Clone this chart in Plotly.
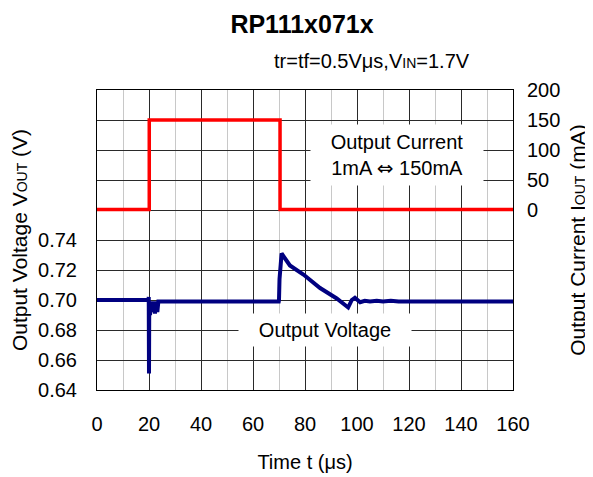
import plotly.graph_objects as go

# ---- data ----
t_current = [0, 20.1, 20.1, 70.4, 70.4, 160]          # time (us)
i_out = [1, 1, 150, 150, 1, 1]                        # output current (mA)

t_voltage = [0, 19.8, 19.9, 20.0, 20.1, 20.4, 20.8, 21.3, 21.8, 22.3, 22.8,
             23.2, 23.6, 40, 69.9, 70.0, 70.2, 71.0, 74.2, 79.4, 85.8, 92.2,
             96.0, 96.6, 98.0, 99.2, 101.2, 103.0, 105.0, 107.6, 110.0, 113.0,
             116.0, 120.0, 125.0, 160]
v_out = [0.700, 0.700, 0.702, 0.651, 0.698, 0.690, 0.699, 0.692, 0.699, 0.691,
         0.699, 0.692, 0.699, 0.699, 0.699, 0.700, 0.714, 0.731, 0.723, 0.717,
         0.708, 0.701, 0.6955, 0.695, 0.700, 0.7015, 0.6985, 0.6995, 0.699,
         0.6995, 0.699, 0.6995, 0.699, 0.699, 0.6995, 0.699]

x_ticks = [0, 20, 40, 60, 80, 100, 120, 140, 160]
v_grid = [0.64, 0.66, 0.68, 0.70, 0.72, 0.74, 0.76, 0.78, 0.80, 0.82]
v_labels = ["0.64", "0.66", "0.68", "0.70", "0.72", "0.74", "", "", "", ""]
i_ticks = [0, 50, 100, 150, 200]

FONT = "Liberation Sans, Arial, sans-serif"
FS = 20
SUB = "<span style='font-size:14px'>{}</span>"

# page body has an 8px margin, so the figure is drawn 8px smaller and offset
W, H = 585, 469
L, R, T, B = 89, 80, 82, 87
PH = H - T - B  # plot height in px

fig = go.Figure()
fig.add_trace(go.Scatter(x=t_current, y=i_out, yaxis="y2", mode="lines",
                         line=dict(color="#ff0000", width=3.5),
                         showlegend=False, name="Output Current"))
fig.add_trace(go.Scatter(x=t_voltage, y=v_out, mode="lines",
                         line=dict(color="#000080", width=4),
                         showlegend=False, name="Output Voltage"))

fig.update_layout(
    width=W, height=H,
    margin=dict(l=L, r=R, t=T, b=B, autoexpand=False),
    paper_bgcolor="white", plot_bgcolor="white",
    font=dict(family=FONT, size=FS, color="black"),
    title=dict(text="<b>RP111x071x</b>", x=(302 - 8) / W, xanchor="center",
               y=1 - 16 / H, yanchor="middle",
               font=dict(size=25, family=FONT, color="black")),
    xaxis=dict(range=[0, 160], tickvals=x_ticks, ticks="",
               showgrid=True, gridcolor="#2a2a2a", gridwidth=1,
               minor=dict(dtick=10, tick0=0, showgrid=True,
                          gridcolor="#c8c8c8", gridwidth=1),
               showline=True, linecolor="black", linewidth=1, mirror=True,
               zeroline=False, ticklabelstandoff=16,
               title=dict(text="Time t (μs)", standoff=20,
                          font=dict(size=FS))),
    yaxis=dict(range=[0.64, 0.84], tickvals=v_grid, ticktext=v_labels,
               ticks="", showgrid=True, gridcolor="#2a2a2a", gridwidth=1,
               showline=True, linecolor="black", linewidth=1, mirror=True,
               zeroline=False, ticklabelstandoff=15,
               title=dict(text="Output Voltage V" + SUB.format("OUT") + " (V)",
                          standoff=10, font=dict(size=21))),
    yaxis2=dict(range=[-300, 200], tickvals=i_ticks, overlaying="y",
                side="right", ticks="", showgrid=False, zeroline=False,
                showline=False, ticklabelstandoff=13,
                title=dict(text="Output Current I" + SUB.format("OUT") + " (mA)",
                           standoff=10, font=dict(size=21))),
    annotations=[
        dict(text="tr=tf=0.5Vμs,V" + SUB.format("IN") + "=1.7V",
             xref="paper", yref="paper", x=(372 - 97) / 416, y=1 + 29 / PH,
             xanchor="center", yanchor="middle", showarrow=False,
             font=dict(size=FS)),
        dict(text="Output Current<br>1mA <span style='font-family:DejaVu Sans'>⇔</span> 150mA",
             xref="x", yref="y2",
             x=115.2, y=92, xanchor="center", yanchor="middle",
             showarrow=False, bgcolor="white", width=172, height=60,
             borderpad=0, font=dict(size=FS)),
        dict(text="Output Voltage", xref="x", yref="y",
             x=87.7, y=0.68, xanchor="center", yanchor="middle",
             showarrow=False, bgcolor="white", width=172, height=32,
             borderpad=0, font=dict(size=FS)),
    ],
)

fig.write_html("out.html")
